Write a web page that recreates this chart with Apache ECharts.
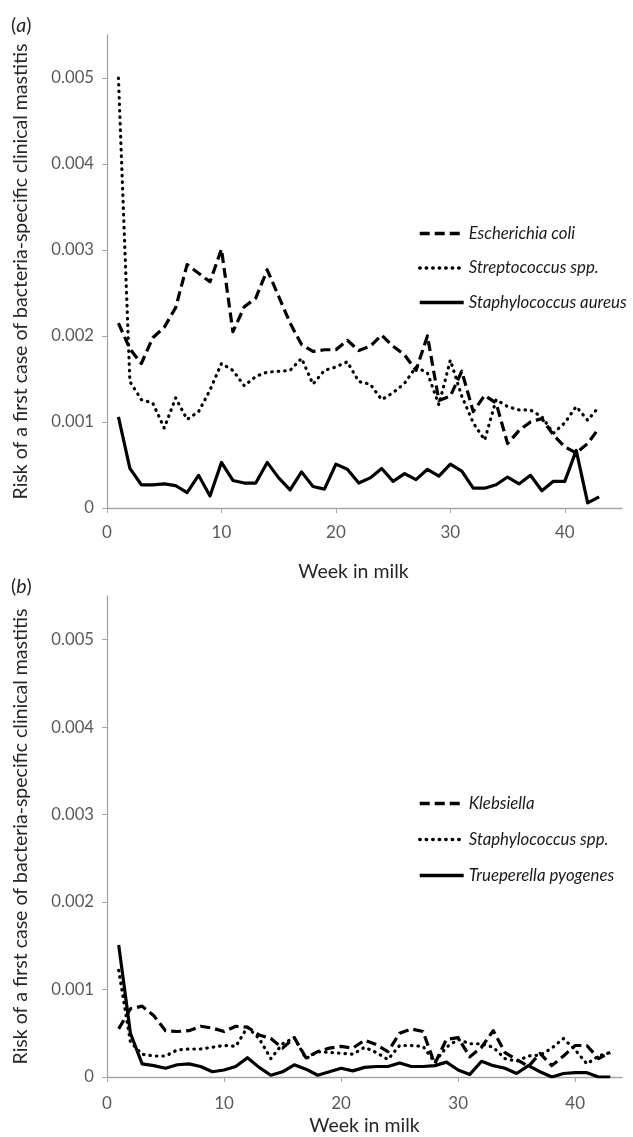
<!DOCTYPE html>
<html>
<head>
<meta charset="utf-8">
<script src="https://cdn.jsdelivr.net/npm/echarts@6/dist/echarts.min.js"></script>
<style>
html,body{margin:0;padding:0;background:#fff;}
#chart{width:633px;height:1137px;}
</style>
</head>
<body>
<div id="chart"></div>
<script>
// ---- data ----
var weeks = [1,2,3,4,5,6,7,8,9,10,11,12,13,14,15,16,17,18,19,20,21,22,23,24,25,26,27,28,29,30,31,32,33,34,35,36,37,38,39,40,41,42,43];
var xTicks = [0,10,20,30,40];
var yTicks = [0,0.001,0.002,0.003,0.004,0.005];

var eColi = [0.00215,0.00185,0.00168,0.00198,0.0021,0.00233,0.00283,0.00273,0.00263,0.00301,0.00205,0.00234,0.00244,0.00277,0.00246,0.00215,0.0019,0.00182,0.00184,0.00184,0.00195,0.00183,0.00188,0.00201,0.00188,0.00178,0.0016,0.002,0.00125,0.0013,0.00159,0.00112,0.00131,0.00122,0.00075,0.0009,0.001,0.00104,0.00085,0.00071,0.00064,0.00075,0.00093];
var strep = [0.005,0.00147,0.00126,0.00122,0.00093,0.00128,0.00103,0.00112,0.00137,0.00168,0.0016,0.00142,0.00153,0.00158,0.00159,0.0016,0.00174,0.00144,0.0016,0.00164,0.0017,0.00147,0.00144,0.00126,0.00134,0.00145,0.00164,0.00157,0.0012,0.00172,0.0013,0.00099,0.00079,0.00126,0.00118,0.00114,0.00114,0.00106,0.00087,0.00099,0.00118,0.00102,0.00118];
var staphAureus = [0.00106,0.00046,0.00027,0.00027,0.00028,0.00026,0.00018,0.00038,0.00014,0.00053,0.00032,0.00029,0.00029,0.00053,0.00035,0.00021,0.00042,0.00025,0.00022,0.00051,0.00045,0.00029,0.00035,0.00046,0.00031,0.0004,0.00033,0.00045,0.00037,0.00051,0.00043,0.00023,0.00023,0.00027,0.00036,0.00028,0.00038,0.0002,0.00031,0.00031,0.00067,0.00006,0.00013];

var klebsiella = [0.00055,0.00078,0.00081,0.0007,0.00053,0.00052,0.00053,0.00058,0.00056,0.00052,0.00058,0.00057,0.00048,0.00044,0.00033,0.00045,0.00022,0.00029,0.00033,0.00035,0.00033,0.00042,0.00037,0.00029,0.0005,0.00055,0.00052,0.00015,0.00043,0.00045,0.00023,0.00034,0.00053,0.00028,0.0002,0.00012,0.00027,0.00013,0.00024,0.00036,0.00036,0.00021,0.00028];
var staphSpp = [0.00122,0.0004,0.00026,0.00024,0.00024,0.00031,0.00032,0.00032,0.00034,0.00036,0.00035,0.00057,0.00044,0.00021,0.00038,0.00045,0.00021,0.00029,0.00028,0.00027,0.00026,0.00034,0.00028,0.0002,0.00036,0.00036,0.00035,0.00017,0.00034,0.00043,0.00038,0.00038,0.00034,0.00021,0.00018,0.00024,0.00025,0.00033,0.00044,0.00031,0.00015,0.00024,0.00028];
var trueperella = [0.00151,0.0005,0.00015,0.00013,0.0001,0.00014,0.00015,0.00012,0.00006,0.00008,0.00012,0.00022,0.00011,0.00002,0.00006,0.00014,0.00009,0.00002,0.00006,0.0001,0.00007,0.00011,0.00012,0.00012,0.00016,0.00012,0.00012,0.00013,0.00017,0.00008,0.00003,0.00018,0.00013,0.0001,0.00004,0.00013,0.00006,0,0.00004,0.00005,0.00005,0,0];

var namesA = ['Escherichia coli','Streptococcus spp.','Staphylococcus aureus'];
var namesB = ['Klebsiella','Staphylococcus spp.','Trueperella pyogenes'];
var yName = 'Risk of a first case of bacteria-specific clinical mastitis';
var xName = 'Week in milk';

// ---- styling ----
var FONT = 'Lato';
var labelColor = '#595959';
var axisColor = '#a6a6a6';
function pairs(arr){ return weeks.map(function(w,i){ return [w, arr[i]]; }); }
var dashed = {color:'#000', width:3.2, type:[10,5], cap:'butt', join:'round'};
var dotted = {color:'#000', width:3.2, type:[0.5,6], cap:'round', join:'round'};
var solid  = {color:'#000', width:3.2, type:'solid', join:'round'};

function xAxis(gi, max, nameGap, pad, margin){
  return {
    type:'value', gridIndex:gi, min:0, max:max, interval:10,
    name:xName, nameLocation:'middle', nameGap:nameGap,
    nameTextStyle:{fontFamily:FONT, fontSize:19.5, color:'#262626', padding:pad},
    axisLine:{show:true, onZero:false, lineStyle:{color:axisColor, width:1.3}},
    axisTick:{show:true, length:5, customValues:xTicks, lineStyle:{color:axisColor}},
    axisLabel:{customValues:xTicks, margin:margin, fontFamily:FONT, fontSize:17, color:labelColor},
    splitLine:{show:false}
  };
}
function yAxis(gi){
  return {
    type:'value', gridIndex:gi, min:0, max:0.0055, interval:0.001,
    name:yName, nameLocation:'middle', nameGap:76, nameRotate:90,
    nameTextStyle:{fontFamily:FONT, fontSize:19.5, color:'#262626'},
    axisLine:{show:true, onZero:false, lineStyle:{color:axisColor, width:1.3}},
    axisTick:{show:true, length:5, customValues:yTicks, lineStyle:{color:axisColor}},
    axisLabel:{customValues:yTicks, margin:13, fontFamily:FONT, fontSize:16.7, color:labelColor,
      formatter:function(v){ return v===0 ? '0' : v.toFixed(3); }},
    splitLine:{show:false}
  };
}
function legend(names, top, gap){
  return {
    data:names, orient:'vertical', left:418, top:top, padding:0,
    itemWidth:44, itemHeight:14, itemGap:gap,
    itemStyle:{opacity:0},
    lineStyle:{width:3.4},
    textStyle:{fontFamily:FONT, fontStyle:'italic', fontSize:16.8, color:'#1a1a1a', lineHeight:14},
    selectedMode:false
  };
}
function series(name, arr, ls, xi){
  return {name:name, type:'line', xAxisIndex:xi, yAxisIndex:xi, data:pairs(arr),
    symbol:'none', showSymbol:false, lineStyle:ls, itemStyle:{color:'#000'}, silent:true, animation:false, z:ls===solid?3:2};
}

var chart = echarts.init(document.getElementById('chart'), null, {renderer:'canvas'});
chart.setOption({
  animation:false,
  backgroundColor:'#fff',
  grid:[
    {left:107, top:35, width:515, height:473},
    {left:107, top:596, width:515, height:486}
  ],
  xAxis:[xAxis(0,45,54,[0,22,0,0],16), xAxis(1,44,39,[0,0,0,0],18)],
  yAxis:[yAxis(0), yAxis(1)],
  legend:[legend(namesA,225,17.5), legend(namesB,795,19)],
  graphic:[
    {type:'text', left:11, top:16, style:{text:'({i|a})', fontFamily:FONT, fontSize:19.5, fill:'#262626',
      rich:{i:{fontStyle:'italic', fontFamily:FONT, fontSize:19.5, fill:'#262626'}}}},
    {type:'text', left:11, top:577, style:{text:'({i|b})', fontFamily:FONT, fontSize:19.5, fill:'#262626',
      rich:{i:{fontStyle:'italic', fontFamily:FONT, fontSize:19.5, fill:'#262626'}}}}
  ],
  series:[
    series(namesA[0], eColi, dashed, 0),
    series(namesA[1], strep, dotted, 0),
    series(namesA[2], staphAureus, solid, 0),
    series(namesB[0], klebsiella, dashed, 1),
    series(namesB[1], staphSpp, dotted, 1),
    series(namesB[2], trueperella, solid, 1)
  ]
});
</script>
</body>
</html>
